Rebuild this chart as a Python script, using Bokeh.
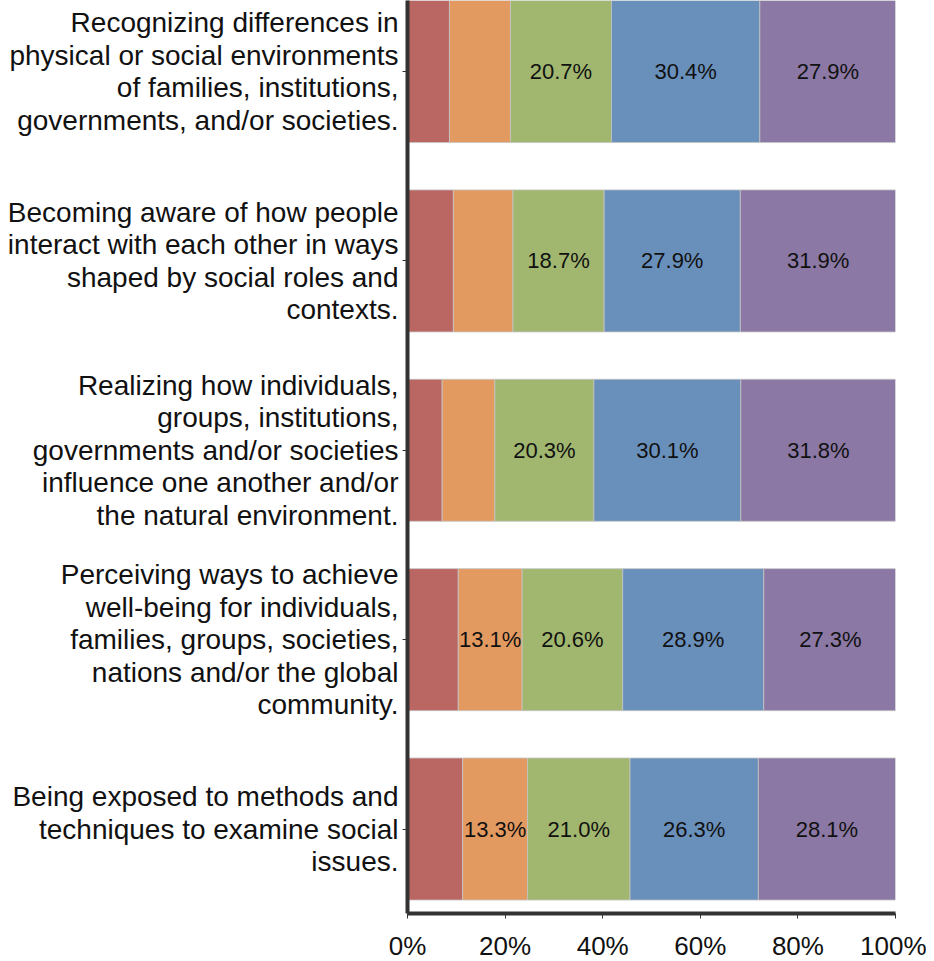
from bokeh.plotting import figure
from bokeh.models import Range1d, FixedTicker, ColumnDataSource
from bokeh.embed import file_html
from bokeh.resources import INLINE
from bokeh.core.properties import value

# Categories, top to bottom
categories = [
    "Recognizing differences in\nphysical or social environments\nof families, institutions,\ngovernments, and/or societies.",
    "Becoming aware of how people\ninteract with each other in ways\nshaped by social roles and\ncontexts.",
    "Realizing how individuals,\ngroups, institutions,\ngovernments and/or societies\ninfluence one another and/or\nthe natural environment.",
    "Perceiving ways to achieve\nwell-being for individuals,\nfamilies, groups, societies,\nnations and/or the global\ncommunity.",
    "Being exposed to methods and\ntechniques to examine social\nissues.",
]

# Series values (percent), same order as categories
level_1 = [8.6, 9.4, 7.1, 10.4, 11.3]
level_2 = [12.5, 12.2, 10.8, 13.1, 13.3]
level_3 = [20.7, 18.7, 20.3, 20.6, 21.0]
level_4 = [30.4, 27.9, 30.1, 28.9, 26.3]
level_5 = [27.9, 31.9, 31.8, 27.3, 28.1]

x_ticks = [0, 20, 40, 60, 80, 100]
x_tick_labels = ["0%", "20%", "40%", "60%", "80%", "100%"]

series = [level_1, level_2, level_3, level_4, level_5]
colors = ["#BA6764", "#E39A61", "#A1B76F", "#698FBB", "#8B78A4"]
label_min = 13.0

FONT = "Liberation Sans"
n = len(categories)
ypos = [n - 1 - i for i in range(n)]  # top category highest

p = figure(
    width=926, height=959,
    x_range=Range1d(0, 100), y_range=Range1d(-0.446, 4.375),
    output_backend="svg", toolbar_location=None,
    min_border_left=407, min_border_right=31,
    min_border_top=0, min_border_bottom=46,
)
p.frame_width = 488
p.frame_height = 913
p.outline_line_color = None
p.xgrid.visible = False
p.ygrid.visible = False
p.background_fill_color = "white"
p.border_fill_color = "white"

left = [0.0] * n
seg_x, seg_y, seg_t = [], [], []
for vals, col in zip(series, colors):
    right = [l + v for l, v in zip(left, vals)]
    src = ColumnDataSource(dict(y=ypos, left=left, right=right))
    p.hbar(y="y", left="left", right="right", height=0.75, source=src,
           fill_color=col, line_color="#c4c4c4", line_width=0.8)
    for i, v in enumerate(vals):
        if v >= label_min:
            seg_x.append((left[i] + right[i]) / 2)
            seg_y.append(ypos[i])
            seg_t.append(f"{v:.1f}%")
    left = right

tsrc = ColumnDataSource(dict(x=seg_x, y=seg_y, t=seg_t))
p.text(x="x", y="y", text="t", source=tsrc, text_align="center",
       text_baseline="middle", text_font=value(FONT),
       text_font_size="22px", text_color="#111111")

AX = "#333333"
# Axes
p.xaxis.ticker = FixedTicker(ticks=x_ticks)
p.xaxis.major_label_overrides = {t: l for t, l in zip(x_ticks, x_tick_labels)}
p.xaxis.major_label_text_font = FONT
p.xaxis.major_label_text_font_size = "26px"
p.xaxis.major_label_text_color = "#111111"
p.xaxis.major_label_standoff = 12
p.xaxis.axis_line_width = 4
p.xaxis.axis_line_color = AX
p.xaxis.major_tick_line_color = AX
p.xaxis.major_tick_out = 5
p.xaxis.major_tick_in = 0
p.xaxis.minor_tick_line_color = None

p.yaxis.ticker = FixedTicker(ticks=ypos)
p.yaxis.major_label_overrides = {y: c for y, c in zip(ypos, categories)}
p.yaxis.major_label_text_font = FONT
p.yaxis.major_label_text_font_size = "28px"
p.yaxis.major_label_text_line_height = 1.05
p.yaxis.major_label_text_color = "#111111"
p.yaxis.major_label_text_align = "right"
p.yaxis.major_label_standoff = 4
p.yaxis.axis_line_width = 4
p.yaxis.axis_line_color = AX
p.yaxis.major_tick_line_color = AX
p.yaxis.major_tick_out = 5
p.yaxis.major_tick_in = 0
p.yaxis.minor_tick_line_color = None

open("out.html", "w").write(file_html(p, INLINE))
